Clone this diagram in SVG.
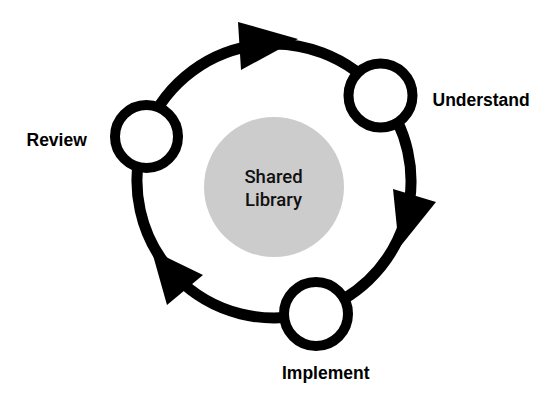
<svg xmlns="http://www.w3.org/2000/svg" width="552" height="408" viewBox="0 0 552 408">
<style>
.ring{fill:none;stroke:#000;stroke-width:11}
.head{fill:#000;stroke:none}
.node{fill:#fff;stroke:#000;stroke-width:10}
.lbl{font-family:"Liberation Sans",Arial,sans-serif;font-weight:bold;font-size:17.5px;fill:#000}
.ctr{font-family:Roboto,"Liberation Sans",Arial,sans-serif;font-weight:500;font-size:18.5px;fill:#111;text-anchor:middle}
</style>
<rect width="552" height="408" fill="#fff"/>
<g id="shared-library">
<circle cx="274" cy="187" r="70" fill="#cccccc"/>
<text class="ctr" x="273.5" y="183">Shared</text>
<text class="ctr" x="273.5" y="206">Library</text>
</g>
<g id="connectors">
<path class="ring" d="M144.6,136 A137,137 0 0 1 380.8,95.2"/>
<path class="ring" d="M380.8,95.2 A137,137 0 0 1 315.3,311.6"/>
<path class="ring" d="M315.3,311.6 A137,137 0 0 1 144.6,136"/>
<polygon class="head" points="238,22 241,70 298,39"/>
<polygon class="head" points="393,189 436,202 399,248"/>
<polygon class="head" points="151.5,250 203,275 167,305"/>
</g>
<g id="review">
<circle class="node" cx="146.5" cy="136.5" r="31.5"/>
<text class="lbl" x="26.5" y="145.5">Review</text>
</g>
<g id="understand">
<circle class="node" cx="380.5" cy="95.5" r="32"/>
<text class="lbl" x="432.5" y="106">Understand</text>
</g>
<g id="implement">
<circle class="node" cx="316" cy="314" r="32"/>
<text class="lbl" x="282" y="379">Implement</text>
</g>
</svg>
